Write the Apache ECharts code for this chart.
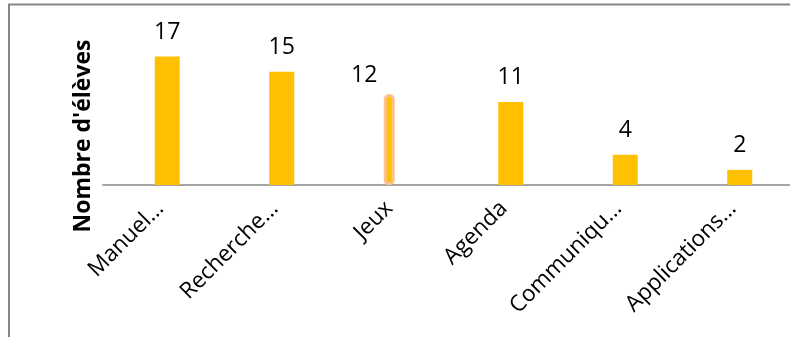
<!DOCTYPE html>
<html>
<head>
<meta charset="utf-8">
<script src="https://cdn.jsdelivr.net/npm/echarts@6/dist/echarts.min.js"></script>
<style>
  html, body { margin: 0; padding: 0; background: #fff; }
  #chart { width: 790px; height: 337px; }
</style>
</head>
<body>
<div id="chart"></div>
<script>
// Usages numériques des élèves
const categories = ['Manuel...', 'Recherche...', 'Jeux', 'Agenda', 'Communiqu...', 'Applications...'];
const counts = [17, 15, 12, 11, 4, 2];
const selectedIndex = 2;
const yTitle = "Nombre d'élèves";

const FONT = '"Open Sans"';
const BAR = '#FFC000';

// main series leaves the selected slot empty; it is drawn by its own series on top
const mainData = counts.map((v, i) => (i === selectedIndex ? '-' : v));
const selData = counts.map((v, i) => (i === selectedIndex ? v : '-'));

const chart = echarts.init(document.getElementById('chart'), null, { renderer: 'canvas' });

chart.setOption({
  animation: false,
  backgroundColor: '#fff',
  grid: { left: 103, right: -9, top: 15, bottom: 152, containLabel: false },
  xAxis: {
    type: 'category',
    data: categories,
    axisLine: { show: true, lineStyle: { color: '#a6a6a6', width: 2 } },
    axisTick: { show: false },
    axisLabel: {
      rotate: 45,
      margin: 20,
      interval: 0,
      color: '#000',
      fontFamily: FONT,
      fontSize: 22.5
    }
  },
  yAxis: {
    type: 'value',
    min: 0,
    max: 22.5,
    show: true,
    axisLine: { show: false },
    axisTick: { show: false },
    axisLabel: { show: false },
    splitLine: { show: false }
  },
  graphic: [
    {
      type: 'rect',
      shape: { x: 9, y: 4.5, width: 900, height: 500 },
      style: { fill: 'none', stroke: '#868686', lineWidth: 2 },
      silent: true
    },
    {
      type: 'text',
      x: 83,
      y: 136,
      rotation: Math.PI / 2,
      style: {
        text: yTitle,
        fontFamily: FONT,
        fontWeight: 'bold',
        fontSize: 23,
        fill: '#000',
        align: 'center',
        verticalAlign: 'middle'
      }
    }
  ],
  series: [
    {
      type: 'bar',
      data: mainData,
      barWidth: 25,
      barGap: '-100%',
      itemStyle: { color: BAR },
      label: {
        show: true,
        position: 'top',
        distance: 13,
        color: '#000',
        fontFamily: FONT,
        fontSize: 23
      }
    },
    {
      type: 'bar',
      data: selData,
      barWidth: 11,
      barGap: '-100%',
      itemStyle: {
        color: BAR,
        borderColor: '#F9C38F',
        borderWidth: 3,
        borderRadius: 3
      },
      label: {
        show: true,
        position: 'top',
        distance: 7,
        offset: [-25, 0],
        color: '#000',
        fontFamily: FONT,
        fontSize: 23
      }
    }
  ]
});
</script>
</body>
</html>
